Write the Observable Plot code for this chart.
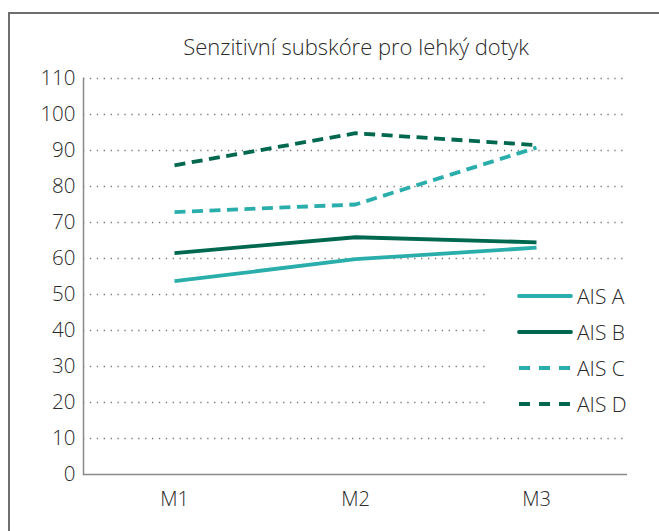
<!DOCTYPE html>
<html>
<head>
<meta charset="utf-8">
<script src="https://cdn.jsdelivr.net/npm/d3@7"></script>
<script src="https://cdn.jsdelivr.net/npm/@observablehq/plot@0.6"></script>
<style>
  html, body { margin: 0; padding: 0; background: #fff; }
  body { width: 659px; height: 531px; position: relative; overflow: hidden; font-family: "Open Sans", sans-serif; color: #333; }
  #border { position: absolute; left: 8px; top: 12px; width: 720px; height: 600px; border: 2px solid #6e6e6e; box-sizing: border-box; }
  #title { position: absolute; left: 0; width: 712px; top: 31px; text-align: center; font-size: 22px; font-weight: 350; color: #2a2a2a; }
  #chart { position: absolute; left: 0; top: 0; }
  #legend { position: absolute; left: 490px; top: 280px; width: 142px; height: 140px; background: #fff; }
  .item { position: absolute; left: 0; height: 28px; display: flex; align-items: center; font-size: 21px; font-weight: 350; color: #2a2a2a; }
  .item svg { margin-left: 27px; margin-right: 4px; }
</style>
</head>
<body>
<div id="border"></div>
<div id="title">Senzitivní subskóre pro lehký dotyk</div>
<div id="chart"></div>
<div id="legend"></div>
<script>
const categories = ["M1", "M2", "M3"];
const seriesNames = ["AIS A", "AIS B", "AIS C", "AIS D"];
const aisA = [53.7, 59.8, 63.0];
const aisB = [61.5, 65.9, 64.5];
const aisC = [72.9, 75.0, 90.8];
const aisD = [85.9, 94.8, 91.5];
const yTicks = [0, 10, 20, 30, 40, 50, 60, 70, 80, 90, 100, 110];
const seriesColors = ["#2aaeab", "#00684f", "#2aaeab", "#00684f"];
const seriesDashed = [false, false, true, true];

const values = [aisA, aisB, aisC, aisD];
const rows = [];
seriesNames.forEach((s, i) => categories.forEach((c, j) => rows.push({series: s, cat: c, value: values[i][j]})));

const lineMarks = seriesNames.map((s, i) =>
  Plot.line(rows.filter(r => r.series === s), {
    x: "cat", y: "value",
    stroke: seriesColors[i],
    strokeWidth: 3.8,
    strokeDasharray: seriesDashed[i] ? "11,6.5" : null,
    strokeLinecap: "butt",
    strokeLinejoin: "round",
    curve: "linear"
  })
);

const chart = Plot.plot({
  width: 659,
  height: 531,
  marginLeft: 83,
  marginRight: 32,
  marginTop: 78,
  marginBottom: 57,
  style: {fontFamily: "'Open Sans', sans-serif", fontSize: "20px", fontWeight: 350, color: "#2a2a2a", background: "transparent"},
  x: {domain: categories, type: "point", padding: 0.5, label: null},
  y: {domain: [0, 110], ticks: yTicks, label: null},
  marks: [
    Plot.ruleY(yTicks.filter(d => d > 0), {stroke: "#777", strokeWidth: 1.3, strokeDasharray: "1.3,5.6", strokeOpacity: 1}),
    Plot.frame({anchor: "left", stroke: "#8a8a8a", strokeWidth: 1.5}),
    Plot.ruleY([0], {stroke: "#8a8a8a", strokeWidth: 1.5}),
    Plot.axisY({ticks: yTicks, tickSize: 0, tickPadding: 8, fontSize: 20.5, label: null, fill: "#2a2a2a"}),
    Plot.axisX({tickSize: 0, tickPadding: 17, fontSize: 20, label: null, fill: "#2a2a2a"}),
    ...lineMarks
  ]
});
document.getElementById("chart").appendChild(chart);

const legend = document.getElementById("legend");
seriesNames.forEach((s, i) => {
  const div = document.createElement("div");
  div.className = "item";
  div.style.top = (2 + i * 36) + "px";
  div.innerHTML = `<svg width="56" height="8"><line x1="2" y1="4" x2="54" y2="4" stroke="${seriesColors[i]}" stroke-width="3.8" stroke-linecap="${seriesDashed[i] ? 'butt' : 'round'}" ${seriesDashed[i] ? 'stroke-dasharray="11,9"' : ''}/></svg><span>${s}</span>`;
  legend.appendChild(div);
});
</script>
</body>
</html>
